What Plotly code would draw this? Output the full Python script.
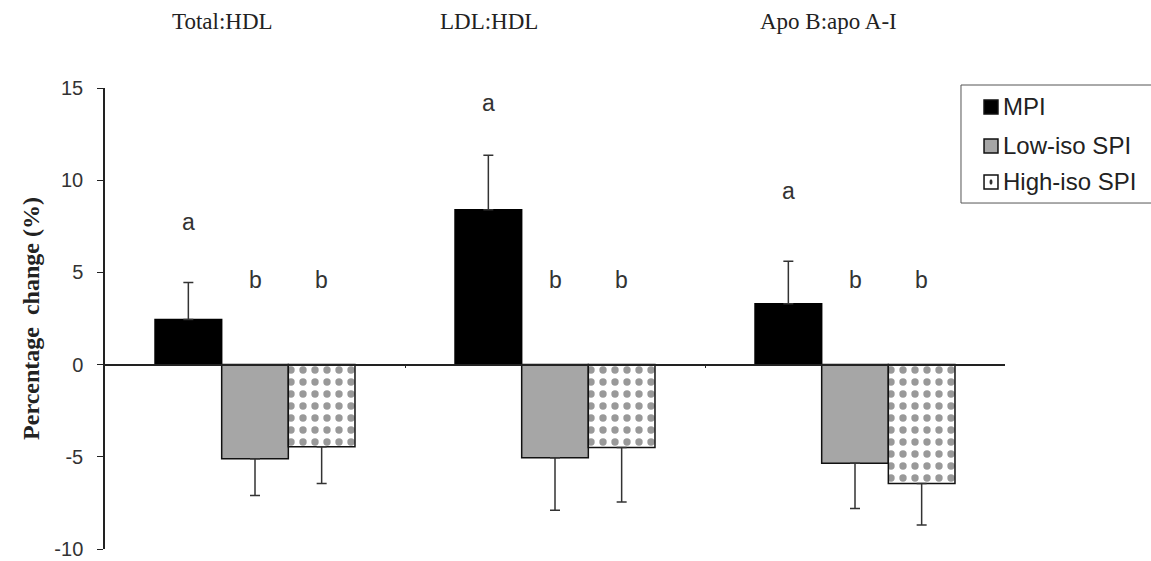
import plotly.graph_objects as go

# Ratio groups and treatment series
categories = ["Total:HDL", "LDL:HDL", "Apo B:apo A-I"]
series_names = ["MPI", "Low-iso SPI", "High-iso SPI"]

# Mean percentage change and SEM per group
mpi = [2.45, 8.4, 3.3]
mpi_err = [2.0, 2.95, 2.3]
low_iso = [-5.1, -5.05, -5.35]
low_iso_err = [2.0, 2.85, 2.45]
high_iso = [-4.45, -4.5, -6.45]
high_iso_err = [2.0, 2.95, 2.25]

# Significance letters per bar
mpi_letters = ["a", "a", "a"]
low_iso_letters = ["b", "b", "b"]
high_iso_letters = ["b", "b", "b"]

y_ticks = [-10, -5, 0, 5, 10, 15]
y_tick_text = ["-10", "-5", "0", "5", "10", "15"]

SANS = "Liberation Sans, Arial, sans-serif"
SERIF = "Liberation Serif, Times New Roman, serif"

x_pos = list(range(len(categories)))
bar_w = 0.2222


def one_sided(vals, errs):
    up = [e if v >= 0 else 0 for v, e in zip(vals, errs)]
    down = [e if v < 0 else 0 for v, e in zip(vals, errs)]
    return dict(type="data", array=up, arrayminus=down, symmetric=False,
                color="#333", thickness=1.5, width=5)


fig = go.Figure()

fig.add_trace(go.Bar(
    x=x_pos, y=mpi, name=series_names[0],
    marker=dict(color="black", line=dict(color="black", width=1.5)),
    error_y=one_sided(mpi, mpi_err), showlegend=False,
))
fig.add_trace(go.Bar(
    x=x_pos, y=low_iso, name=series_names[1],
    marker=dict(color="#a6a6a6", line=dict(color="#111", width=1.5)),
    error_y=one_sided(low_iso, low_iso_err), showlegend=False,
))
fig.add_trace(go.Bar(
    x=x_pos, y=high_iso, name=series_names[2],
    marker=dict(color="white", line=dict(color="#111", width=1.5),
                pattern=dict(shape=".", fgcolor="#333", bgcolor="white",
                             size=12, solidity=0.3)),
    error_y=one_sided(high_iso, high_iso_err), showlegend=False,
))

annotations = []

# Group titles along the top
title_shift = [-0.11, -0.22, -0.09]
for i, cat in enumerate(categories):
    annotations.append(dict(
        x=i + title_shift[i], y=1.145, xref="x", yref="paper",
        text=cat, showarrow=False, xanchor="center", yanchor="middle",
        font=dict(family=SERIF, size=23, color="#222"),
    ))

# Significance letters
letter_gap = [3.3, 2.85, 3.8]
b_level = 4.6
for i in x_pos:
    annotations.append(dict(
        x=i - bar_w, y=mpi[i] + mpi_err[i] + letter_gap[i], xref="x", yref="y",
        text=mpi_letters[i], showarrow=False, yanchor="middle",
        font=dict(family=SANS, size=23, color="#333"),
    ))
    annotations.append(dict(
        x=i, y=b_level, xref="x", yref="y", text=low_iso_letters[i],
        showarrow=False, yanchor="middle",
        font=dict(family=SANS, size=23, color="#333"),
    ))
    annotations.append(dict(
        x=i + bar_w, y=b_level, xref="x", yref="y", text=high_iso_letters[i],
        showarrow=False, yanchor="middle",
        font=dict(family=SANS, size=23, color="#333"),
    ))

# Legend box drawn in paper coordinates
shapes = [dict(type="rect", xref="paper", yref="paper",
               x0=0.9511, x1=1.17, y0=0.7505, y1=1.0065,
               line=dict(color="#555", width=1), fillcolor="white", layer="above")]
legend_y = [0.9588, 0.8742, 0.7961]
sym_fill = ["black", "#a6a6a6", "white"]
sx0, sx1, half = 0.9767, 0.9922, 0.0152
for name, yy, fill in zip(series_names, legend_y, sym_fill):
    shapes.append(dict(type="rect", xref="paper", yref="paper",
                       x0=sx0, x1=sx1, y0=yy - half, y1=yy + half,
                       line=dict(color="#111", width=1.5), fillcolor=fill,
                       layer="above"))
    annotations.append(dict(
        x=0.9955, y=yy, xref="paper", yref="paper", text=name,
        showarrow=False, xanchor="left", yanchor="middle",
        font=dict(family=SANS, size=24, color="#222"),
    ))
# dot inside the patterned legend swatch
shapes.append(dict(type="circle", xref="paper", yref="paper",
                   x0=0.9828, x1=0.9861, y0=legend_y[2] - 0.006, y1=legend_y[2] + 0.006,
                   line=dict(width=0), fillcolor="#333", layer="above"))

fig.update_layout(
    width=1151, height=561,
    margin=dict(l=105, r=146, t=88, b=12, autoexpand=False),
    paper_bgcolor="white", plot_bgcolor="white",
    barmode="group", bargap=0.3335, bargroupgap=0,
    showlegend=False,
    annotations=annotations,
    shapes=shapes,
    xaxis=dict(
        range=[-0.5, 2.5], anchor="free", position=0.4,
        showline=True, linecolor="#222", linewidth=1.5,
        ticks="outside", tickvals=[0.5, 1.5], ticklen=3, tickcolor="#222",
        showticklabels=False, showgrid=False, zeroline=False,
    ),
    yaxis=dict(
        range=[-10, 15], tickvals=y_ticks, ticktext=y_tick_text,
        showline=True, linecolor="#222", linewidth=1.5,
        ticks="outside", ticklen=6, tickcolor="#222", ticklabelstandoff=10,
        showgrid=False, zeroline=False,
        tickfont=dict(family=SANS, size=20, color="#333"),
        title=dict(text="<b>Percentage  change (%)</b>", standoff=8,
                   font=dict(family=SERIF, size=24, color="#222")),
    ),
)

fig.write_html("out.html")
